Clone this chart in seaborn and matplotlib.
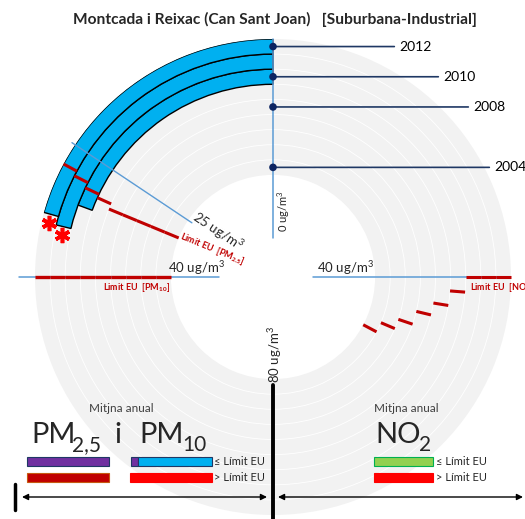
import numpy as np
import matplotlib
matplotlib.use("Agg")
import matplotlib.pyplot as plt
import seaborn as sns
from matplotlib.patches import Rectangle

# ---------------- data ----------------
ring_years = [2004, 2005, 2006, 2007, 2008, 2009, 2010, 2011, 2012]
pm10_years = [2010, 2011, 2012]
pm10_values = [31, 34, 33]              # ug/m3, annual mean PM10
star_years = [2011, 2012]               # years flagged with a red asterisk
star_values = [35, 34]
label_years = [2004, 2008, 2010, 2012]
pm25_limit = [30, 30, 30, 30, 30, 29.2, 28.7, 28, 27.4]
pm10_limit = [40, 40, 40, 40, 40, 40, 40, 40, 40]
no2_limit = [52.4, 50.2, 48.3, 46, 44.1, 42, 40, 40, 40]
ref_pm25 = 25
ref_40 = 40
title = "Montcada i Reixac (Can Sant Joan)   [Suburbana-Industrial]"

# ---------------- style ----------------
sns.set_theme(style="white")
plt.rcParams['font.family'] = ['Lato', 'DejaVu Sans']
plt.rcParams['mathtext.fontset'] = 'custom'
plt.rcParams['mathtext.rm'] = 'Lato'
plt.rcParams['mathtext.it'] = 'Lato:italic'
plt.rcParams['mathtext.bf'] = 'Lato:bold'
plt.rcParams['mathtext.default'] = 'regular'

BLUE = '#00b0f0'
LBLUE = '#5b9bd5'
DRED = '#c00000'
NAVY = '#1f3864'
DOT = '#0c2461'

W, H = 525, 519
cx, cy, R = 273, 277, 238
fig = plt.figure(figsize=(W / 100, H / 100), dpi=100)
fig.patch.set_facecolor('white')

ax = fig.add_axes([(cx - R) / W, (H - cy - R) / H, 2 * R / W, 2 * R / H],
                  projection='polar')
ax.set_theta_zero_location('N')
ax.set_theta_direction(1)
ax.set_facecolor('#f2f2f2')
ax.patch.set_edgecolor('none')
K = np.pi / 80.0   # 80 ug/m3 = half turn


def t_pm(v):
    return v * K


def t_no2(v):
    return -v * K


# PM10 arcs
ax.bar([0] * len(pm10_values), [1] * len(pm10_values),
       width=[t_pm(v) for v in pm10_values],
       bottom=[y - 0.5 for y in pm10_years], align='edge',
       color=BLUE, edgecolor='black', linewidth=1.0, zorder=3)

# reference axes lines
ax.plot([t_pm(ref_40)] * 2, [2000.3, 2013.56], color=LBLUE, lw=1.1, clip_on=False, zorder=4)
ax.plot([t_no2(ref_40)] * 2, [1999.4, 2012.4], color=LBLUE, lw=1.1, clip_on=False, zorder=4)
ax.plot([0, 0], [1999.3, 2012.5], color=LBLUE, lw=1.1, clip_on=False, zorder=4)
ax.plot([t_pm(ref_pm25)] * 2, [2003.2, 2012.75], color=LBLUE, lw=1.0, clip_on=False, zorder=4)

# EU limits per year
for y, a, b, c in zip(ring_years, pm25_limit, pm10_limit, no2_limit):
    r = [y - 0.5, y + 0.5]
    ax.plot([t_pm(a)] * 2, r, color=DRED, lw=2.2, solid_capstyle='butt', clip_on=False, zorder=5)
    ax.plot([t_pm(b)] * 2, r, color=DRED, lw=2.4, solid_capstyle='butt', clip_on=False, zorder=5)
    ax.plot([t_no2(c)] * 2, r, color=DRED, lw=2.2,
            solid_capstyle='butt', clip_on=False, zorder=5)

# year dots and labels
sns.scatterplot(x=[0] * len(label_years), y=label_years, ax=ax, color=DOT, s=30,
                edgecolor='none', zorder=7, clip_on=False, legend=False)
offs = {2012: 126, 2010: 170, 2008: 200, 2004: 221}
for y in label_years:
    ax.annotate(str(y), xy=(0, y), xytext=(offs[y], 0), textcoords='offset pixels',
                va='center', ha='left', fontsize=10, color='black',
                arrowprops=dict(arrowstyle='-', color=NAVY, lw=1.2, shrinkA=1, shrinkB=0),
                annotation_clip=False, zorder=6)

# asterisks
ax.plot([t_pm(v) for v in star_values], star_years, linestyle='none',
        marker=(6, 2, 0), ms=11, mew=2.6, color='#ff0000', clip_on=False, zorder=7)

# axis cosmetics
ax.set_xticks([])
ax.set_yticks([y + 0.5 for y in ring_years[:-1]])
ax.set_yticklabels([])
ax.yaxis.grid(True, color='white', lw=0.6)
ax.xaxis.grid(False)
ax.set_xlabel('')
ax.set_ylabel('')
for s in ax.spines.values():
    s.set_visible(False)
    s.set_edgecolor('none')
    s.set_linewidth(0)
ax.set_ylim(2003.5, 2012.5)
ax.set_rorigin(1996.74)

# ---------------- overlay (labels, legend) ----------------
ov = fig.add_axes([0, 0, 1, 1], zorder=5)
ov.set_xlim(0, W)
ov.set_ylim(H, 0)
ov.axis('off')
ov.patch.set_alpha(0)

ov.text(275, 19, title, ha='center', va='center', fontsize=11.2, fontweight='bold')

ov.text(284, 211, r"0 ug/m$^3$", rotation=90, ha='center', va='center', fontsize=8)
ov.text(275, 355, r"80 ug/m$^3$", rotation=90, ha='center', va='center', fontsize=9.5)
ov.text(196, 268, r"40 ug/m$^3$", ha='center', va='center', fontsize=9.5)
ov.text(345, 268, r"40 ug/m$^3$", ha='center', va='center', fontsize=9.5)
ov.text(218, 231, r"25 ug/m$^3$", rotation=-33.7, ha='center', va='center',
        fontsize=9.5, rotation_mode='anchor')
ov.text(212, 249, r"Limit EU  [PM$_\mathbf{2.5}$]", rotation=-22.3, ha='center', va='center',
        fontsize=6.5, fontweight='bold', color=DRED, rotation_mode='anchor')
ov.text(137, 287, r"Limit EU  [PM$_\mathbf{10}$]", ha='center', va='center',
        fontsize=6.5, fontweight='bold', color=DRED)
ov.text(470, 287, r"Limit EU  [NO$_\mathbf{2}$]", ha='left', va='center',
        fontsize=6.5, fontweight='bold', color=DRED, clip_on=False)

# legend
GREY = '#404040'
ov.text(121, 408, "Mitjna anual", ha='center', va='center', fontsize=8.5, color=GREY)
ov.text(406, 408, "Mitjna anual", ha='center', va='center', fontsize=8.5, color=GREY)
ov.text(31, 443, "PM", ha='left', va='baseline', fontsize=21)
ov.text(72, 451, "2,5", ha='left', va='baseline', fontsize=15)
ov.text(114, 443, "i", ha='left', va='baseline', fontsize=21)
ov.text(139, 443, "PM", ha='left', va='baseline', fontsize=21)
ov.text(182, 451, "10", ha='left', va='baseline', fontsize=15)
ov.text(375, 443, "NO", ha='left', va='baseline', fontsize=21)
ov.text(419, 451, "2", ha='left', va='baseline', fontsize=15)

rects = [
    (27, 457, 82, 9, '#7030a0', NAVY),
    (27, 473, 82, 9, '#c00000', '#c55a11'),
    (131, 457, 7, 9, '#7030a0', NAVY),
    (138, 457, 74, 9, BLUE, NAVY),
    (130, 473, 82, 9, '#ff0000', '#ff0000'),
    (374, 457, 59, 9, '#92d050', '#00b050'),
    (374, 473, 59, 9, '#ff0000', '#ff0000'),
]
for x0, y0, w, h, fc, ec in rects:
    ov.add_patch(Rectangle((x0, y0), w, h, facecolor=fc, edgecolor=ec, lw=0.8))
for x0 in (214, 436):
    ov.text(x0, 461.5, "≤ Límit EU", ha='left', va='center', fontsize=8)
    ov.text(x0, 477.5, "> Límit EU", ha='left', va='center', fontsize=8)

ov.annotate('', xy=(22, 497), xytext=(267, 497),
            arrowprops=dict(arrowstyle='<|-|>', color='black', lw=1.0,
                            shrinkA=0, shrinkB=0, mutation_scale=9))
ov.annotate('', xy=(278, 497), xytext=(523, 497),
            arrowprops=dict(arrowstyle='<|-|>', color='black', lw=1.0,
                            shrinkA=0, shrinkB=0, mutation_scale=9))
ov.plot([15, 15], [484, 510], color='black', lw=2.5)
ov.plot([273, 273], [385, 519], color='black', lw=2.8)

fig.savefig('out.png', dpi=100, facecolor='white')
